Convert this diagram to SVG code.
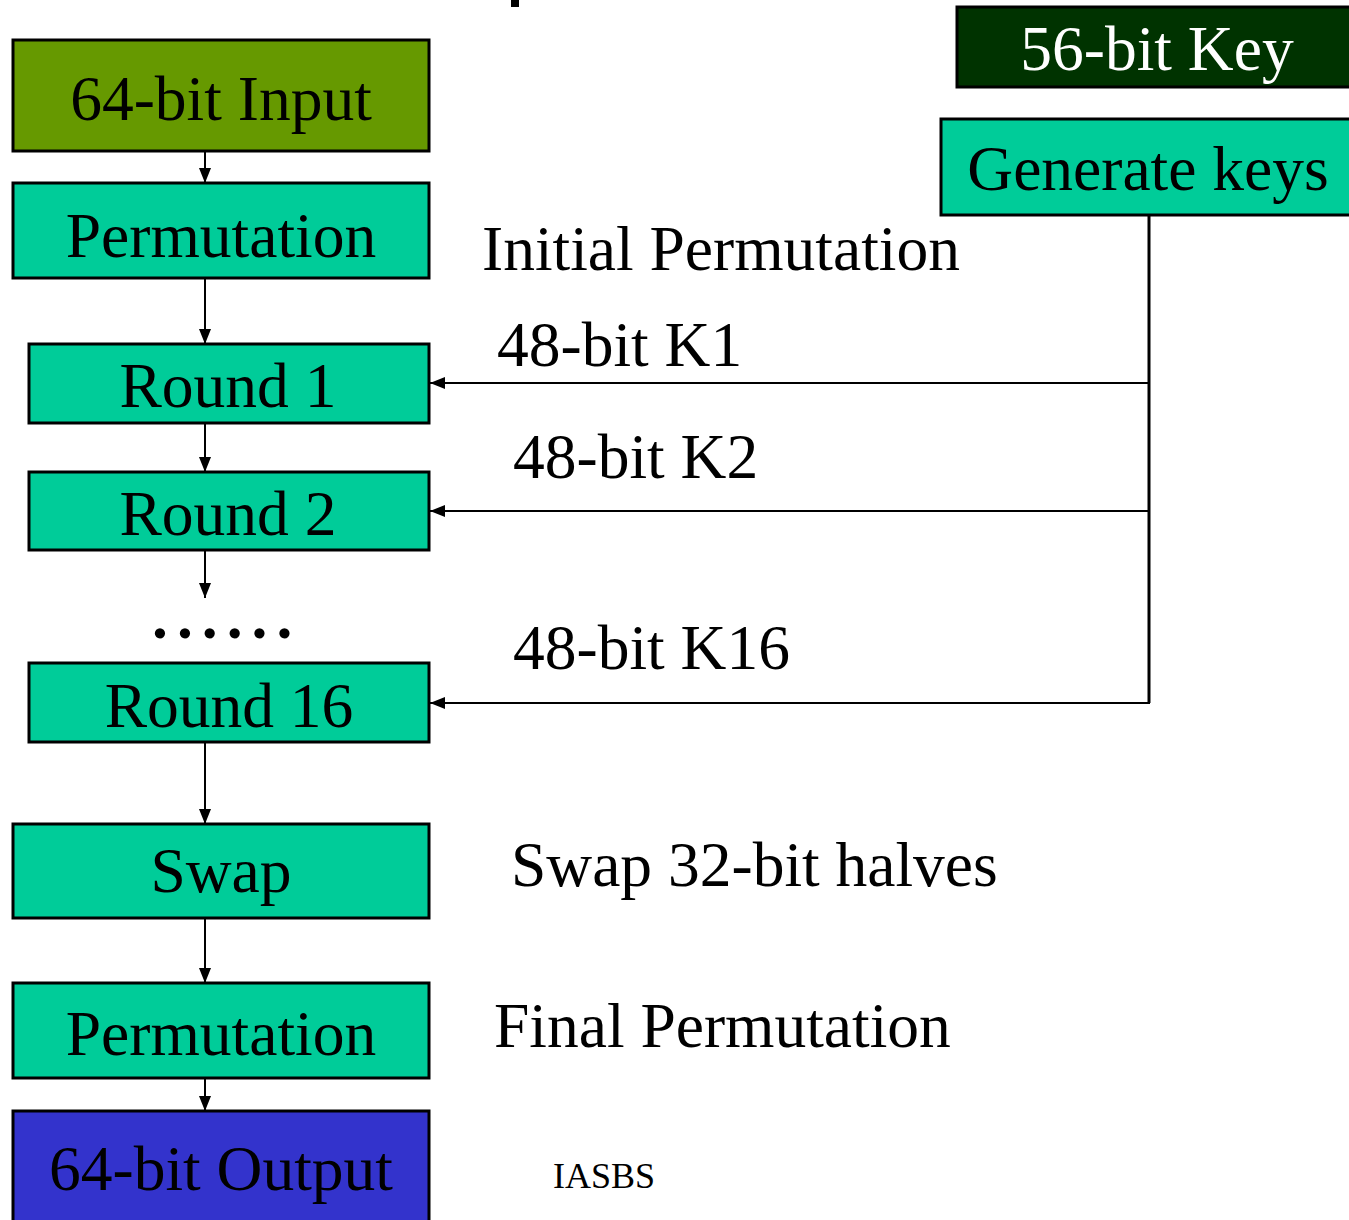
<svg xmlns="http://www.w3.org/2000/svg" width="1349" height="1220" viewBox="0 0 1349 1220">
<style>
.box{stroke:#000;stroke-width:3}
.g{fill:#00CC99}
.t{font-family:"Liberation Serif","Times New Roman",serif;font-size:63.5px;fill:#000}
.c{text-anchor:middle}
.ln{stroke:#000;stroke-width:2;fill:none}
</style>
<defs>
<marker id="ah" viewBox="0 0 15 12" refX="15" refY="6" markerWidth="15" markerHeight="12" markerUnits="userSpaceOnUse" orient="auto">
<path d="M0,0 L15,6 L0,12 Z" fill="#000"/>
</marker>
</defs>
<rect x="511" y="0" width="8" height="7" fill="#000"/>
<g id="input"><rect class="box" x="13" y="40" width="416" height="111" fill="#669900"/><text class="t c" x="221" y="120">64-bit Input</text></g>
<g id="perm1"><rect class="box g" x="13" y="183" width="416" height="95"/><text class="t c" x="221" y="257">Permutation</text></g>
<g id="round1"><rect class="box g" x="29" y="344" width="400" height="79"/><text class="t c" x="228" y="407">Round 1</text></g>
<g id="round2"><rect class="box g" x="29" y="472" width="400" height="78"/><text class="t c" x="228" y="535">Round 2</text></g>
<g id="dots"><text class="t" x="152" y="638" letter-spacing="9" style="font-weight:bold">......</text></g>
<g id="round16"><rect class="box g" x="29" y="663" width="400" height="79"/><text class="t c" x="229" y="727">Round 16</text></g>
<g id="swap"><rect class="box g" x="13" y="824" width="416" height="94"/><text class="t c" x="221" y="892">Swap</text></g>
<g id="perm2"><rect class="box g" x="13" y="983" width="416" height="95"/><text class="t c" x="221" y="1055">Permutation</text></g>
<g id="output"><rect class="box" x="13" y="1111" width="416" height="115" fill="#3333CC"/><text class="t c" x="221" y="1190">64-bit Output</text></g>
<g id="key56"><rect class="box" x="957" y="7" width="400" height="80" fill="#003300"/><text class="t c" x="1157" y="70" style="fill:#fff">56-bit Key</text></g>
<g id="genkeys"><rect class="box g" x="941" y="119" width="416" height="96"/><text class="t c" x="1148" y="190">Generate keys</text></g>
<g id="labels">
<text class="t" x="482" y="270">Initial Permutation</text>
<text class="t" x="497" y="366">48-bit K1</text>
<text class="t" x="513" y="478">48-bit K2</text>
<text class="t" x="513" y="669">48-bit K16</text>
<text class="t" x="511" y="886">Swap 32-bit halves</text>
<text class="t" x="494" y="1047">Final Permutation</text>
<text x="553" y="1188" style="font-family:'Liberation Serif',serif;font-size:36px" textLength="102" lengthAdjust="spacingAndGlyphs">IASBS</text>
</g>
<g id="connectors">
<line class="ln" x1="205" y1="151" x2="205" y2="183" marker-end="url(#ah)"/>
<line class="ln" x1="205" y1="278" x2="205" y2="344" marker-end="url(#ah)"/>
<line class="ln" x1="205" y1="423" x2="205" y2="472" marker-end="url(#ah)"/>
<line class="ln" x1="205" y1="550" x2="205" y2="598" marker-end="url(#ah)"/>
<line class="ln" x1="205" y1="742" x2="205" y2="824" marker-end="url(#ah)"/>
<line class="ln" x1="205" y1="918" x2="205" y2="983" marker-end="url(#ah)"/>
<line class="ln" x1="205" y1="1078" x2="205" y2="1111" marker-end="url(#ah)"/>
<path class="ln" d="M1149,215 L1149,703" style="stroke-width:3"/>
<line class="ln" x1="1149" y1="383" x2="430" y2="383" marker-end="url(#ah)"/>
<line class="ln" x1="1149" y1="511" x2="430" y2="511" marker-end="url(#ah)"/>
<line class="ln" x1="1150" y1="703" x2="430" y2="703" marker-end="url(#ah)"/>
</g>
</svg>
